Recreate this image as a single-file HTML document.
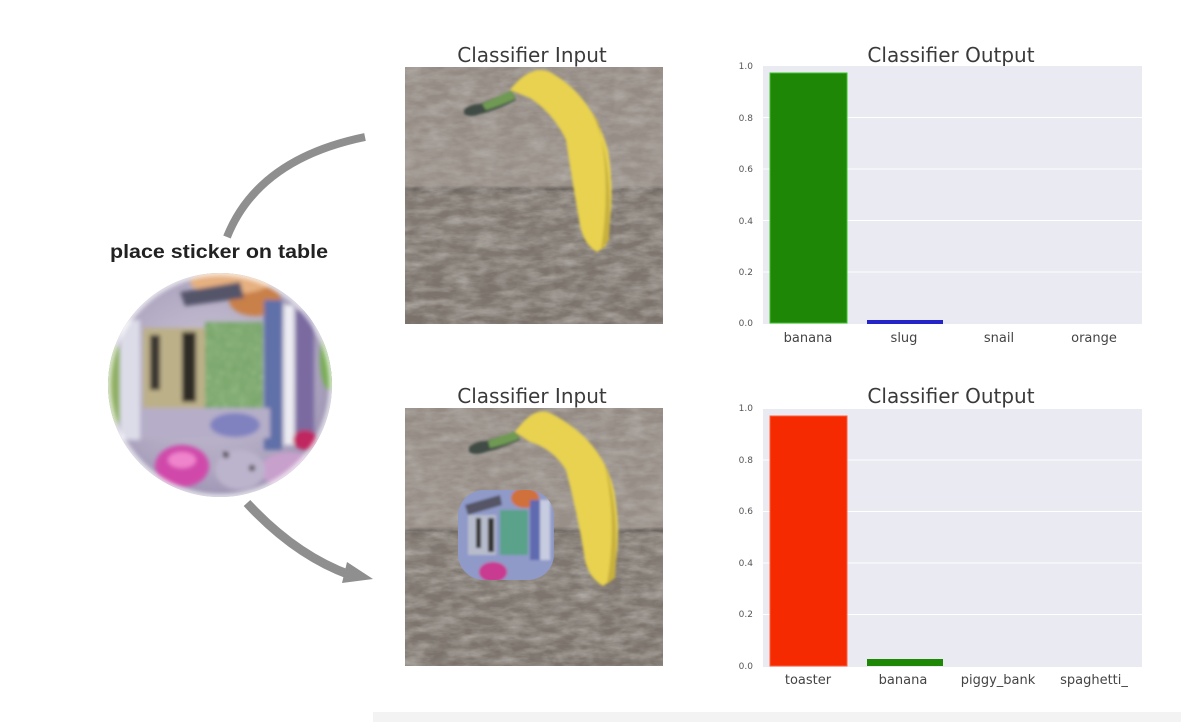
<!DOCTYPE html>
<html><head><meta charset="utf-8"><style>
html,body{margin:0;padding:0;background:#fff;}
svg{display:block;}
</style></head><body>
<svg width="1200" height="724" viewBox="0 0 1200 724" xmlns="http://www.w3.org/2000/svg">
<defs>
  <filter id="wood" x="0" y="0" width="100%" height="100%">
    <feTurbulence type="fractalNoise" baseFrequency="0.04 0.12" numOctaves="4" seed="4" result="n"/>
    <feColorMatrix in="n" type="matrix" values="0 0 0 0 0.42  0 0 0 0 0.39  0 0 0 0 0.36  1.6 0 0 0 -0.55" result="c"/>
    <feComposite in="c" in2="SourceGraphic" operator="in"/>
  </filter>
  <filter id="wood2" x="0" y="0" width="100%" height="100%">
    <feTurbulence type="fractalNoise" baseFrequency="0.07 0.09" numOctaves="2" seed="9" result="n"/>
    <feColorMatrix in="n" type="matrix" values="0 0 0 0 0.68  0 0 0 0 0.65  0 0 0 0 0.62  1.2 0 0 0 -0.5" result="c"/>
    <feComposite in="c" in2="SourceGraphic" operator="in"/>
  </filter>
  <filter id="blur2"><feGaussianBlur stdDeviation="2"/></filter>
  <filter id="blur1"><feGaussianBlur stdDeviation="1.2"/></filter>
  <filter id="mottle" x="0" y="0" width="100%" height="100%">
    <feTurbulence type="turbulence" baseFrequency="0.25" numOctaves="2" seed="2" result="n"/>
    <feColorMatrix in="n" type="matrix" values="0 0 0 0 0.85  0 0 0 0 0.95  0 0 0 0 0.7  1.2 0 0 0 -0.2" result="c"/>
    <feComposite in="c" in2="SourceGraphic" operator="in"/>
  </filter>
  <clipPath id="circ"><circle cx="220" cy="385" r="112"/></clipPath>
  <clipPath id="img1"><rect x="405" y="67" width="258" height="257"/></clipPath>
  <clipPath id="img2"><rect x="405" y="408" width="258" height="258"/></clipPath>
  <clipPath id="mini"><rect x="458" y="490" width="96" height="90" rx="26"/></clipPath>
  <radialGradient id="silver" cx="0.45" cy="0.45" r="0.6">
    <stop offset="0" stop-color="#cfc9d8"/>
    <stop offset="0.7" stop-color="#aea6c0"/>
    <stop offset="1" stop-color="#958cad"/>
  </radialGradient>
  <linearGradient id="woodg1" x1="0" y1="0" x2="0" y2="1">
    <stop offset="0" stop-color="#938a83"/>
    <stop offset="0.46" stop-color="#988f88"/>
    <stop offset="0.475" stop-color="#6a635d"/>
    <stop offset="0.5" stop-color="#7f7770"/>
    <stop offset="1" stop-color="#7a726b"/>
  </linearGradient>
</defs>

<!-- bottom faint band -->
<rect x="373" y="712" width="808" height="10" fill="#f3f3f3"/>

<!-- arrows -->
<path d="M365,137 Q258,159 227,237" fill="none" stroke="#8f8f8f" stroke-width="8"/>
<path d="M247,503 Q295,555 350,575" fill="none" stroke="#8f8f8f" stroke-width="9"/>
<polygon points="347,562 373,579 342,583" fill="#8f8f8f"/>

<!-- label -->
<text x="110" y="258" font-family="Liberation Sans, Arial, sans-serif" font-weight="bold" font-size="19" fill="#222" textLength="218" lengthAdjust="spacingAndGlyphs">place sticker on table</text>

<!-- sticker -->
<g clip-path="url(#circ)">
  <rect x="100" y="270" width="240" height="230" fill="url(#silver)"/>
  <g filter="url(#blur2)">
    <ellipse cx="115" cy="385" rx="12" ry="40" fill="#8fb062"/>
    <ellipse cx="330" cy="360" rx="10" ry="30" fill="#78ae55"/>
    <ellipse cx="255" cy="300" rx="26" ry="16" fill="#c98048"/>
    <ellipse cx="230" cy="282" rx="40" ry="12" fill="#e6b080"/>
    <polygon points="180,292 240,282 244,298 185,306" fill="#55546a"/>
    <rect x="143" y="328" width="70" height="80" fill="#bcb088"/>
    <rect x="150" y="335" width="10" height="55" fill="#3a3530"/>
    <rect x="182" y="332" width="14" height="70" fill="#2e2a28"/>
    <rect x="205" y="322" width="58" height="88" fill="#78a56a"/>
    <rect x="205" y="322" width="58" height="88" fill="#8fc070" filter="url(#mottle)" opacity="0.6"/>
    <rect x="264" y="300" width="18" height="150" fill="#6070a8"/>
    <rect x="284" y="305" width="10" height="140" fill="#ececf2"/>
    <rect x="296" y="310" width="18" height="130" fill="#7a6aa0"/>
    <rect x="120" y="320" width="20" height="120" fill="#dcdce8"/>
    <rect x="140" y="408" width="130" height="30" fill="#b6aec8"/>
    <ellipse cx="235" cy="425" rx="25" ry="12" fill="#8082c0"/>
    <ellipse cx="182" cy="466" rx="27" ry="21" fill="#d04aaa"/>
    <ellipse cx="182" cy="460" rx="14" ry="8" fill="#f084cc"/>
    <ellipse cx="290" cy="470" rx="30" ry="18" fill="#c8a0cc"/>
    <ellipse cx="240" cy="470" rx="25" ry="20" fill="#bcb4cc"/>
    <circle cx="226" cy="455" r="3" fill="#333"/>
    <circle cx="252" cy="468" r="3" fill="#333"/>
    <ellipse cx="305" cy="440" rx="12" ry="10" fill="#c02860"/>
  </g>
  <circle cx="220" cy="385" r="112" fill="none" stroke="#fff" stroke-width="6" filter="url(#blur2)" opacity="0.7"/>
</g>

<!-- titles -->
<g font-family="DejaVu Sans, Liberation Sans, sans-serif" font-size="20" fill="#3a3a3a" text-anchor="middle">
  <text x="532" y="62">Classifier Input</text>
  <text x="951" y="62">Classifier Output</text>
  <text x="532" y="403">Classifier Input</text>
  <text x="951" y="403">Classifier Output</text>
</g>

<!-- image 1 -->
<g clip-path="url(#img1)">
  <rect x="405" y="67" width="258" height="257" fill="url(#woodg1)"/>
  <rect x="405" y="67" width="258" height="257" fill="#000" filter="url(#wood)"/>
  <rect x="405" y="67" width="258" height="257" fill="#000" filter="url(#wood2)" opacity="0.35"/>
  <g filter="url(#blur1)">
    <path d="M464,110 Q470,104 480,104 Q495,98 512,90 L516,100 Q498,110 480,114 Q470,118 464,114 Z" fill="#3f4c44"/>
    <path d="M482,104 Q495,98 512,90 L515,99 Q500,106 486,110 Z" fill="#6f9a52"/>
    <path d="M510,90 Q530,64 550,72 Q592,95 608,150 Q616,200 606,246 L597,252 Q584,245 580,225 Q572,180 566,140 Q554,114 530,98 Z" fill="#e8d250"/>
    <path d="M592,112 Q614,160 609,240 L601,250 Q612,180 598,122 Z" fill="#c8b03c"/>
  </g>
</g>

<!-- image 2 -->
<g clip-path="url(#img2)">
  <rect x="405" y="408" width="258" height="258" fill="url(#woodg1)"/>
  <rect x="405" y="408" width="258" height="258" fill="#000" filter="url(#wood)"/>
  <rect x="405" y="408" width="258" height="258" fill="#000" filter="url(#wood2)" opacity="0.35"/>
  <g filter="url(#blur1)">
    <path d="M469,447 Q476,441 486,441 Q500,436 517,431 L520,440 Q502,448 486,452 Q475,456 469,452 Z" fill="#3f4c44"/>
    <path d="M488,441 Q500,436 517,431 L519,439 Q504,445 490,448 Z" fill="#6f9a52"/>
    <path d="M515,432 Q535,404 552,414 Q602,440 614,490 Q623,540 612,580 L603,586 Q589,578 585,560 Q578,515 566,470 Q552,448 530,442 Z" fill="#e8d250"/>
    <path d="M600,452 Q621,500 615,578 L607,584 Q618,520 604,462 Z" fill="#c8b03c"/>
  </g>
  <g clip-path="url(#mini)" filter="url(#blur1)">
    <rect x="455" y="488" width="100" height="95" fill="#8f9ac8"/>
    <polygon points="465,505 500,495 502,505 468,515" fill="#556"/>
    <ellipse cx="525" cy="498" rx="14" ry="10" fill="#d0703a"/>
    <rect x="468" y="515" width="28" height="40" fill="#b7bccc"/>
    <rect x="476" y="518" width="5" height="30" fill="#333"/>
    <rect x="488" y="518" width="6" height="34" fill="#333"/>
    <rect x="500" y="510" width="28" height="45" fill="#5aa28a"/>
    <rect x="530" y="500" width="10" height="60" fill="#5e6ab0"/>
    <rect x="540" y="500" width="10" height="60" fill="#c8cce0"/>
    <ellipse cx="493" cy="572" rx="14" ry="10" fill="#c83a90"/>
  </g>
</g>

<!-- chart 1 -->
<g>
  <rect x="763" y="66" width="379" height="258" fill="#eaeaf2"/>
  <g stroke="#fff" stroke-width="1">
    <line x1="763" x2="1142" y1="117.5" y2="117.5"/>
    <line x1="763" x2="1142" y1="169" y2="169"/>
    <line x1="763" x2="1142" y1="220.5" y2="220.5"/>
    <line x1="763" x2="1142" y1="272" y2="272"/>
  </g>
  <rect x="770" y="73" width="77" height="250" fill="#1f8706" stroke="#3fc030" stroke-width="1"/>
  <rect x="867" y="320" width="76" height="4" fill="#2424c8"/>
  <g font-family="DejaVu Sans, Liberation Sans, sans-serif" font-size="9" fill="#555" text-anchor="end">
    <text x="753" y="69">1.0</text>
    <text x="753" y="121">0.8</text>
    <text x="753" y="172">0.6</text>
    <text x="753" y="224">0.4</text>
    <text x="753" y="275">0.2</text>
    <text x="753" y="326">0.0</text>
  </g>
  <g font-family="DejaVu Sans, Liberation Sans, sans-serif" font-size="13" fill="#444" text-anchor="middle">
    <text x="808" y="342">banana</text>
    <text x="904" y="342">slug</text>
    <text x="999" y="342">snail</text>
    <text x="1094" y="342">orange</text>
  </g>
</g>

<!-- chart 2 -->
<g>
  <rect x="763" y="409" width="379" height="258" fill="#eaeaf2"/>
  <g stroke="#fff" stroke-width="1">
    <line x1="763" x2="1142" y1="460" y2="460"/>
    <line x1="763" x2="1142" y1="511.5" y2="511.5"/>
    <line x1="763" x2="1142" y1="563" y2="563"/>
    <line x1="763" x2="1142" y1="614.5" y2="614.5"/>
  </g>
  <rect x="770" y="416" width="77" height="250" fill="#f52a00" stroke="#ff6040" stroke-width="1"/>
  <rect x="867" y="659" width="76" height="7" fill="#1f8706"/>
  <g font-family="DejaVu Sans, Liberation Sans, sans-serif" font-size="9" fill="#555" text-anchor="end">
    <text x="753" y="411">1.0</text>
    <text x="753" y="463">0.8</text>
    <text x="753" y="514">0.6</text>
    <text x="753" y="566">0.4</text>
    <text x="753" y="617">0.2</text>
    <text x="753" y="669">0.0</text>
  </g>
  <g font-family="DejaVu Sans, Liberation Sans, sans-serif" font-size="13" fill="#444" text-anchor="middle">
    <text x="808" y="684">toaster</text>
    <text x="903" y="684">banana</text>
    <text x="998" y="684">piggy_bank</text>
    <text x="1094" y="684">spaghetti_</text>
  </g>
</g>
</svg>
</body></html>
